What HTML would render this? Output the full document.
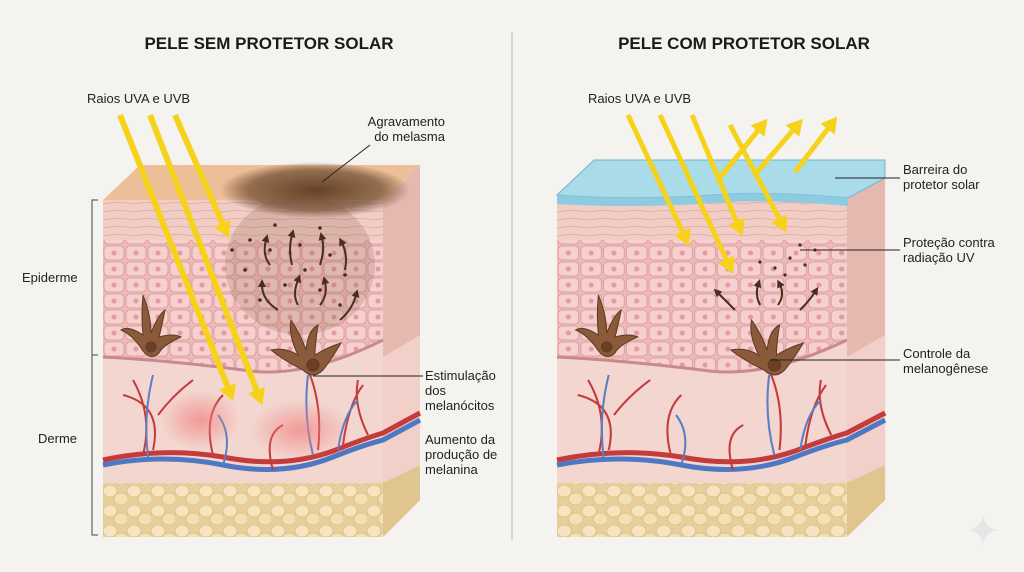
<!DOCTYPE html>
<html><head><meta charset="utf-8"><style>
html,body{margin:0;padding:0;background:#f4f3f0;}
svg{display:block;font-family:"Liberation Sans",sans-serif;}
</style></head><body>
<svg width="1024" height="572" viewBox="0 0 1024 572" xmlns="http://www.w3.org/2000/svg">
<defs>
<pattern id="cells" width="22" height="16" patternUnits="userSpaceOnUse">
<rect width="22" height="16" fill="#eebab8"/>
<rect x="1" y="1" width="20" height="14" rx="4" fill="#f6d0cf" stroke="#d9999a" stroke-width="0.8"/>
<circle cx="11" cy="8" r="2.5" fill="#e39aa2"/>
</pattern>
<pattern id="flat" width="30" height="8" patternUnits="userSpaceOnUse">
<rect width="30" height="8" fill="#f1cdc6"/>
<path d="M0 7 Q15 4 30 7" stroke="#d9a8a4" fill="none" stroke-width="0.8"/>
</pattern>
<pattern id="fat" width="24" height="20" patternUnits="userSpaceOnUse">
<rect width="24" height="20" fill="#e6cf9c"/>
<ellipse cx="7" cy="6" rx="7" ry="6" fill="#f5e4bd" stroke="#d9bd83" stroke-width="0.8"/>
<ellipse cx="18" cy="14" rx="7" ry="6" fill="#f3e0b5" stroke="#d9bd83" stroke-width="0.8"/>
</pattern>
<radialGradient id="mel" cx="0.5" cy="0.5" r="0.5"><stop offset="0" stop-color="#5d3a22" stop-opacity="0.95"/><stop offset="0.7" stop-color="#6d4a30" stop-opacity="0.7"/><stop offset="1" stop-color="#5d3a22" stop-opacity="0"/></radialGradient>
<radialGradient id="red" cx="0.5" cy="0.5" r="0.5"><stop offset="0" stop-color="#f08080" stop-opacity="0.7"/><stop offset="1" stop-color="#f08080" stop-opacity="0"/></radialGradient>
<marker id="ah" markerUnits="userSpaceOnUse" markerWidth="16" markerHeight="18" refX="4" refY="9" orient="auto"><path d="M0 0 L16 9 L0 18 Z" fill="#f6d21a"/></marker>
<marker id="bh" markerWidth="4" markerHeight="4" refX="1" refY="2" orient="auto"><path d="M0 0 L4 2 L0 4 Z" fill="#4a2e1c"/></marker>
<g id="block">
<path d="M0 35 L37 0 L317 0 L280 35 Z" fill="#edbf98"/>
<path d="M280 35 L317 0 L317 335 L280 372 Z" fill="#e6b9b0"/>
<path d="M280 192 L317 170 L317 318 L280 340 Z" fill="#f2cfc8"/>
<path d="M280 318 L317 300 L317 335 L280 372 Z" fill="#e0c58f"/>
<rect x="0" y="35" width="280" height="337" fill="#f3d6cf"/>
<rect x="0" y="35" width="280" height="40" fill="url(#flat)"/>
<path d="M0 75 H280 V175 Q200 215 140 205 Q60 195 0 192 Z" fill="url(#cells)"/>
<path d="M0 192 Q60 195 140 205 Q200 215 280 175" stroke="#c98a8e" stroke-width="3" fill="none"/>
<rect x="0" y="318" width="280" height="54" fill="url(#fat)"/>
<path d="M0 300 Q60 288 120 300 Q180 312 230 292 Q260 280 280 275 L317 255" stroke="#4f78c4" stroke-width="5" fill="none"/>
<path d="M0 295 Q60 282 120 292 Q180 304 230 286 Q260 274 280 268 L317 248" stroke="#c33b3b" stroke-width="5" fill="none"/>
<path d="M40 290 Q50 250 30 215 M50 285 Q60 240 20 230 M55 250 Q70 230 90 215 M110 290 Q100 250 120 230 M215 285 Q220 240 205 205 M240 280 Q245 240 260 220 M265 270 Q250 240 255 215 M170 305 Q160 270 180 260" stroke="#c33b3b" stroke-width="2" fill="none"/>
<path d="M45 292 Q40 250 50 210 M120 300 Q130 270 115 250 M210 290 Q200 250 205 210 M235 285 Q240 250 255 235" stroke="#5c7ec4" stroke-width="2" fill="none"/>
<g fill="#8a5a3a" stroke="#5d3a22" stroke-width="1">
<path d="M40 186 Q30 170 18 165 Q25 160 40 170 Q38 150 40 130 Q48 150 48 168 Q55 150 62 145 Q58 165 56 172 Q70 168 78 172 Q60 180 56 188 Q48 196 40 186 Z"/>
<circle cx="48" cy="182" r="5" fill="#6b4028"/>
</g>
<g fill="#8a5a3a" stroke="#5d3a22" stroke-width="1">
<path d="M200 205 Q180 195 168 185 Q182 182 195 190 Q185 170 188 155 Q198 170 203 185 Q205 165 215 160 Q212 180 212 190 Q225 182 238 178 Q228 195 220 205 Q210 215 200 205 Z"/>
<circle cx="210" cy="200" r="6" fill="#6b4028"/>
</g>
</g>
</defs>

<text x="269" y="49" font-size="17" font-weight="bold" text-anchor="middle" fill="#1a1a1a">PELE SEM PROTETOR SOLAR</text>
<text x="744" y="49" font-size="17" font-weight="bold" text-anchor="middle" fill="#1a1a1a">PELE COM PROTETOR SOLAR</text>
<line x1="512" y1="32" x2="512" y2="540" stroke="#b8b8b8" stroke-width="1"/>

<!-- LEFT -->
<use href="#block" x="103" y="165"/>
<ellipse cx="315" cy="190" rx="95" ry="28" fill="url(#mel)"/>
<ellipse cx="300" cy="265" rx="75" ry="70" fill="#7a4a2a" opacity="0.18"/>
<g fill="#4a2e1c">
<circle cx="250" cy="240" r="1.8"/><circle cx="270" cy="250" r="1.8"/><circle cx="300" cy="245" r="1.8"/><circle cx="330" cy="255" r="1.8"/><circle cx="345" cy="275" r="1.8"/><circle cx="245" cy="270" r="1.8"/><circle cx="260" cy="300" r="1.8"/><circle cx="285" cy="285" r="1.8"/><circle cx="320" cy="290" r="1.8"/><circle cx="340" cy="305" r="1.8"/><circle cx="305" cy="270" r="1.8"/><circle cx="275" cy="225" r="1.8"/><circle cx="320" cy="228" r="1.8"/><circle cx="232" cy="250" r="1.8"/>
</g>
<g stroke="#4a2e1c" stroke-width="2" fill="none" marker-end="url(#bh)">
<path d="M270 265 Q262 255 266 240"/><path d="M292 265 Q288 250 292 235"/><path d="M320 265 Q325 250 322 238"/><path d="M345 270 Q348 255 342 243"/>
<path d="M278 310 Q262 300 262 285"/><path d="M298 305 Q292 295 298 280"/><path d="M320 305 Q328 295 325 282"/><path d="M340 320 Q352 310 356 295"/>
</g>
<ellipse cx="200" cy="420" rx="40" ry="30" fill="url(#red)"/>
<ellipse cx="300" cy="430" rx="50" ry="30" fill="url(#red)"/>
<g stroke="#f6d21a" stroke-width="6" marker-end="url(#ah)">
<line x1="120" y1="115" x2="229" y2="390"/>
<line x1="150" y1="115" x2="258" y2="394"/>
<line x1="175" y1="115" x2="224" y2="227"/>
</g>
<text x="87" y="103" font-size="13" fill="#222">Raios UVA e UVB</text>
<text x="445" y="126" font-size="13" fill="#222" text-anchor="end">Agravamento</text>
<text x="445" y="141" font-size="13" fill="#222" text-anchor="end">do melasma</text>
<line x1="370" y1="145" x2="322" y2="182" stroke="#222"/>
<text x="425" y="380" font-size="13" fill="#222">Estimulação</text>
<text x="425" y="395" font-size="13" fill="#222">dos</text>
<text x="425" y="410" font-size="13" fill="#222">melanócitos</text>
<line x1="313" y1="376" x2="423" y2="376" stroke="#222"/>
<text x="425" y="444" font-size="13" fill="#222">Aumento da</text>
<text x="425" y="459" font-size="13" fill="#222">produção de</text>
<text x="425" y="474" font-size="13" fill="#222">melanina</text>
<text x="22" y="282" font-size="13" fill="#222">Epiderme</text>
<text x="38" y="443" font-size="13" fill="#222">Derme</text>
<path d="M98 200 H92 V355 H98 M92 355 V535 H98" stroke="#444" fill="none"/>

<!-- RIGHT -->
<use href="#block" transform="translate(557,165) scale(1.035,1)"/>
<path d="M557 195 L594 160 L885 160 L885 178 L848 198 Q760 190 700 196 Q620 200 557 195 Z" fill="#a9dbe8" stroke="#6fb6cf"/>
<path d="M557 195 Q620 200 700 196 Q760 190 848 198 L848 206 Q760 198 700 204 Q620 208 557 204 Z" fill="#8ccbe0"/>
<g fill="#4a2e1c">
<circle cx="760" cy="262" r="1.6"/><circle cx="775" cy="268" r="1.6"/><circle cx="790" cy="258" r="1.6"/><circle cx="805" cy="265" r="1.6"/><circle cx="785" cy="275" r="1.6"/><circle cx="815" cy="250" r="1.6"/><circle cx="800" cy="245" r="1.6"/>
</g>
<g stroke="#4a2e1c" stroke-width="2" fill="none" marker-end="url(#bh)">
<path d="M735 310 Q725 300 718 293"/><path d="M760 305 Q755 295 758 285"/><path d="M778 305 Q785 295 780 285"/><path d="M800 310 Q810 300 815 292"/>
</g>
<g stroke="#f6d21a" stroke-width="5" marker-end="url(#ah)">
<line x1="628" y1="115" x2="684" y2="235"/>
<line x1="660" y1="115" x2="728" y2="263"/>
<line x1="692" y1="115" x2="738" y2="225"/>
<line x1="730" y1="125" x2="781" y2="222"/>
<line x1="718" y1="180" x2="760" y2="128"/>
<line x1="757" y1="172" x2="795" y2="128"/>
<line x1="795" y1="172" x2="830" y2="126"/>
</g>
<text x="588" y="103" font-size="13" fill="#222">Raios UVA e UVB</text>
<text x="903" y="174" font-size="13" fill="#222">Barreira do</text>
<text x="903" y="189" font-size="13" fill="#222">protetor solar</text>
<line x1="835" y1="178" x2="900" y2="178" stroke="#222"/>
<text x="903" y="247" font-size="13" fill="#222">Proteção contra</text>
<text x="903" y="262" font-size="13" fill="#222">radiação UV</text>
<line x1="800" y1="250" x2="900" y2="250" stroke="#222"/>
<text x="903" y="358" font-size="13" fill="#222">Controle da</text>
<text x="903" y="373" font-size="13" fill="#222">melanogênese</text>
<line x1="770" y1="360" x2="900" y2="360" stroke="#222"/>
<path d="M983 515 Q985 528 998 530 Q985 532 983 545 Q981 532 968 530 Q981 528 983 515 Z" fill="#e6e6e6"/>
</svg>
</body></html>
